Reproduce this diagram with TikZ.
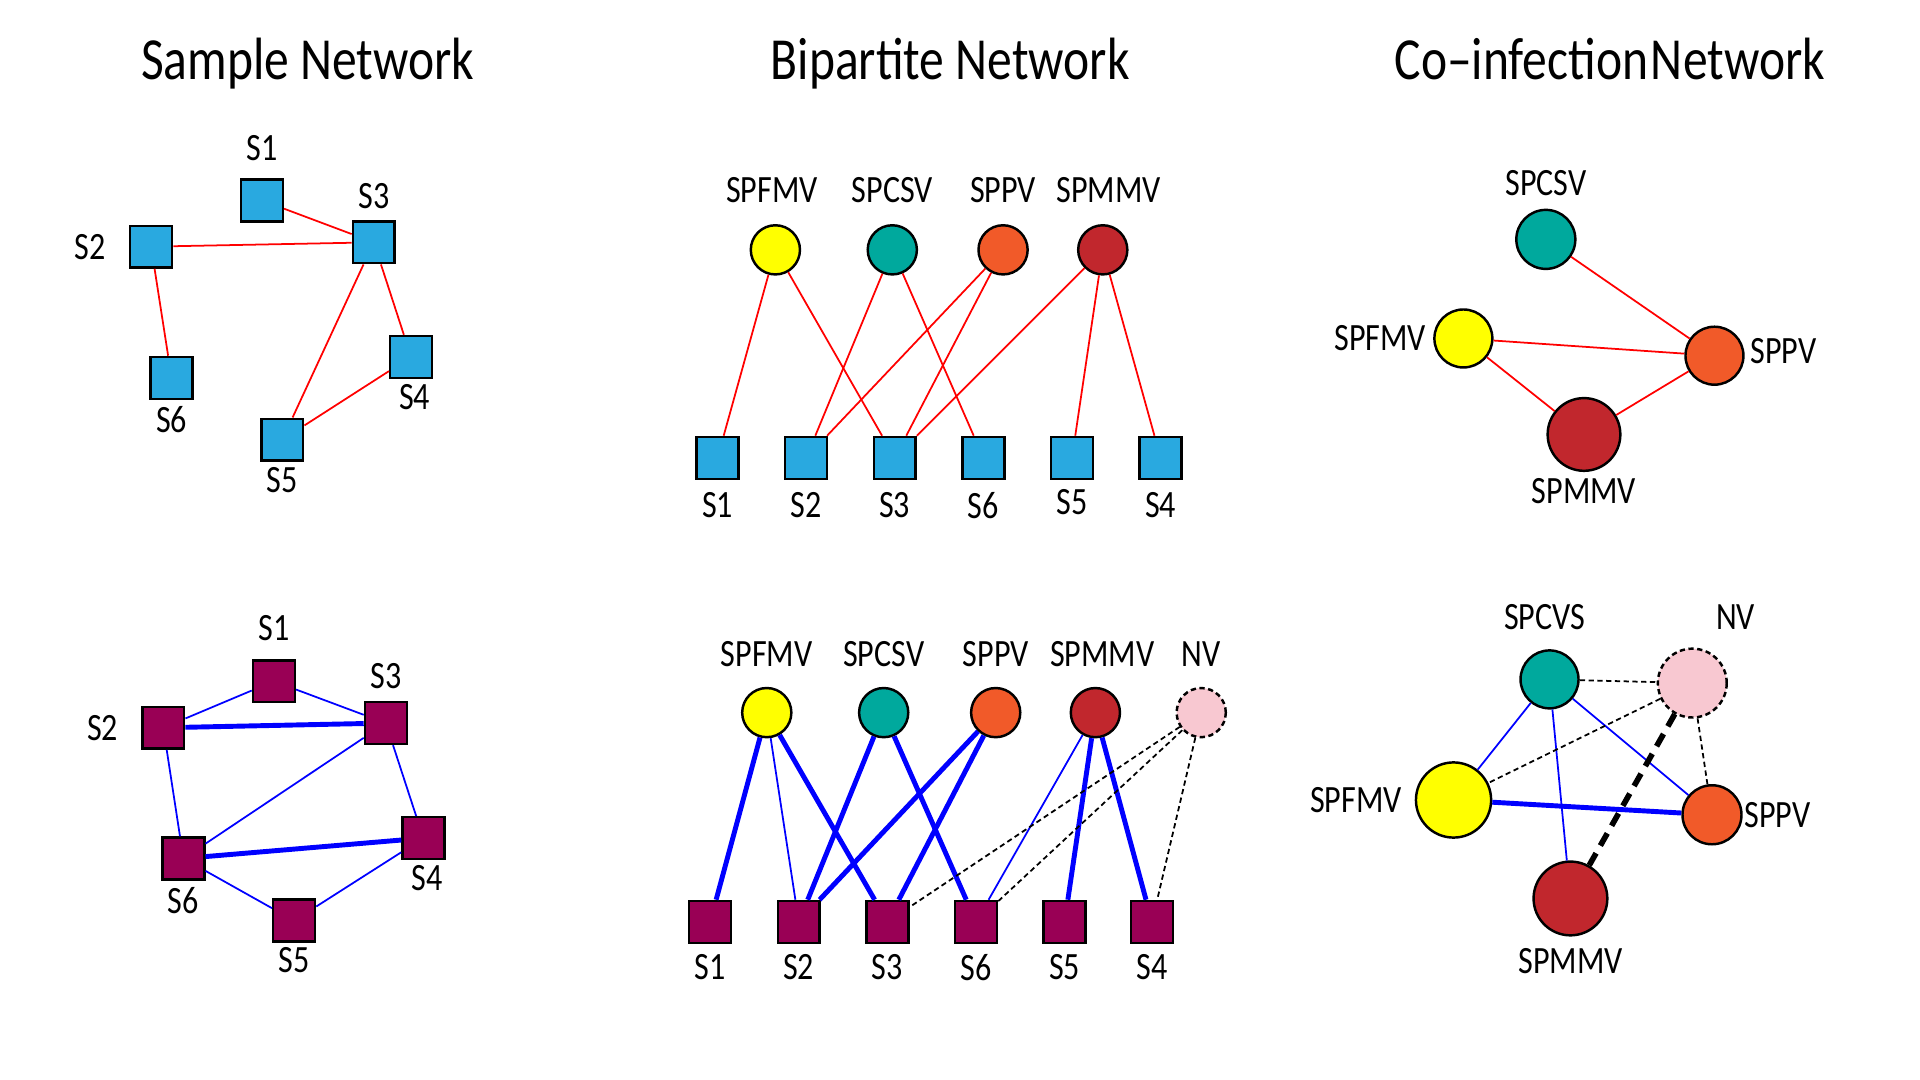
\documentclass[tikz,border=0pt]{standalone}
\usepackage{fontspec}
\setmainfont{Carlito}[FakeStretch=0.83]
\usepackage{xcolor}
\definecolor{SampleBlue}{HTML}{29A9E0}
\definecolor{SamplePurple}{HTML}{990055}
\definecolor{VirusYellow}{HTML}{FFFF00}
\definecolor{VirusTeal}{HTML}{00A99D}
\definecolor{VirusOrange}{HTML}{F15A29}
\definecolor{VirusRed}{HTML}{C1272D}
\definecolor{VirusPink}{HTML}{F8C8D1}

\begin{document}
\begin{tikzpicture}[x=0.012308cm, y=-0.012308cm,
    every label/.style={font=\fontsize{11}{13}\selectfont, inner sep=0pt},
    paneltitle/.style={font=\fontsize{17}{20}\selectfont, anchor=base, inner sep=0pt},
    sample/.style={draw, rectangle, minimum size=11.9pt, inner sep=0pt, line width=0.7pt},
    samplea/.style={sample, fill=SampleBlue},
    sampleb/.style={sample, fill=SamplePurple},
    virus/.style={draw, circle, minimum size=#1, inner sep=0pt, line width=0.7pt},
    virus/.default=14pt,
    nvnode/.style={virus=#1, fill=VirusPink, dash pattern=on 1.5pt off 1pt},
    nvnode/.default=14pt,
    weak/.style={line width=0.5pt},
    strong/.style={line width=1.4pt},
    nvlink/.style={line width=0.5pt, dash pattern=on 1.5pt off 1pt},
    nvstrong/.style={line width=1.6pt, dash pattern=on 4pt off 2.5pt}]
    \useasboundingbox (0,0) rectangle (1560,877.5);

    % Titles
    \node[paneltitle] (t1) at (250,65) {Sample Network};
    \node[paneltitle] (t2) at (772,65) {Bipartite Network};
    \node[paneltitle] (t3) at (1308,65) {\spaceskip=0.8pt Co--infection Network};

    % Sample network (top)
    \node[samplea, label={[label distance=4.9pt]above:S1}] (sa1) at (212.8,162.8) {};
    \node[samplea, label={[label distance=6.4pt]left:S2}] (sa2) at (122.8,200.4) {};
    \node[samplea, label={[label distance=3.2pt]above:S3}] (sa3) at (303.7,196.9) {};
    \node[samplea, label={[label distance=1.3pt, xshift=1pt]below:S4}] (sa4) at (334,290) {};
    \node[samplea, label={[label distance=1.3pt]below:S5}] (sa5) at (229.4,357.2) {};
    \node[samplea, label={[label distance=1.7pt]below:S6}] (sa6) at (139.4,307) {};

    \draw[red, weak] (sa1) -- (sa3);
    \draw[red, weak] (sa2) -- (sa3);
    \draw[red, weak] (sa2) -- (sa6);
    \draw[red, weak] (sa3) -- (sa4);
    \draw[red, weak] (sa3) -- (sa5);
    \draw[red, weak] (sa4) -- (sa5);

    % Sample network (bottom)
    \node[sampleb, label={[label distance=5pt]above:S1}] (sb1) at (222.5,553.5) {};
    \node[sampleb, label={[label distance=6.4pt]left:S2}] (sb2) at (132.7,591.3) {};
    \node[sampleb, label={[label distance=3.2pt]above:S3}] (sb3) at (313.5,587.5) {};
    \node[sampleb, label={[label distance=1.3pt, xshift=1pt]below:S4}] (sb4) at (344,681) {};
    \node[sampleb, label={[label distance=1.1pt]below:S5}] (sb5) at (239,748) {};
    \node[sampleb, label={[label distance=1.8pt]below:S6}] (sb6) at (149,697.5) {};

    \draw[blue, weak] (sb1) -- (sb2);
    \draw[blue, weak] (sb1) -- (sb3);
    \draw[blue, strong] (sb2) -- (sb3);
    \draw[blue, weak] (sb2) -- (sb6);
    \draw[blue, weak] (sb3) -- (sb6);
    \draw[blue, weak] (sb3) -- (sb4);
    \draw[blue, strong] (sb6) -- (sb4);
    \draw[blue, weak] (sb6) -- (sb5);
    \draw[blue, weak] (sb5) -- (sb4);

    % Bipartite network (top)
    \node[virus, fill=VirusYellow, label={[label distance=5.8pt, xshift=-1pt]above:SPFMV}] (fma) at (630,203) {};
    \node[virus, fill=VirusTeal, label={[label distance=5.8pt]above:SPCSV}] (csa) at (725,203) {};
    \node[virus, fill=VirusOrange, label={[label distance=5.8pt]above:SPPV}] (ppa) at (815,203) {};
    \node[virus, fill=VirusRed, label={[label distance=5.8pt, xshift=1.7pt]above:SPMMV}] (mma) at (896,203) {};
    \node[samplea, label={[label distance=3.3pt]below:S1}] (ba1) at (583,372) {};
    \node[samplea, label={[label distance=3.3pt]below:S2}] (ba2) at (655,372) {};
    \node[samplea, label={[label distance=3.3pt]below:S3}] (ba3) at (727,372) {};
    \node[samplea, label={[label distance=3.3pt]below:S6}] (ba6) at (799,372) {};
    \node[samplea, label={[label distance=2.6pt]below:S5}] (ba5) at (871,372) {};
    \node[samplea, label={[label distance=3.3pt]below:S4}] (ba4) at (943,372) {};

    \draw[red, weak] (fma) -- (ba1);
    \draw[red, weak] (fma) -- (ba3);
    \draw[red, weak] (csa) -- (ba2);
    \draw[red, weak] (csa) -- (ba6);
    \draw[red, weak] (ppa) -- (ba2);
    \draw[red, weak] (ppa) -- (ba3);
    \draw[red, weak] (mma) -- (ba3);
    \draw[red, weak] (mma) -- (ba5);
    \draw[red, weak] (mma) -- (ba4);

    % Bipartite network (bottom)
    \node[virus, fill=VirusYellow, label={[label distance=5.6pt]above:SPFMV}] (fmb) at (623,579) {};
    \node[virus, fill=VirusTeal, label={[label distance=5.6pt]above:SPCSV}] (csb) at (718,579) {};
    \node[virus, fill=VirusOrange, label={[label distance=5.6pt]above:SPPV}] (ppb) at (809,579) {};
    \node[virus, fill=VirusRed, label={[label distance=5.6pt, xshift=2pt]above:SPMMV}] (mmb) at (890,579) {};
    \node[nvnode, label={[label distance=5.6pt]above:NV}] (nvb) at (976,579) {};
    \node[sampleb, label={[label distance=2.8pt]below:S1}] (bb1) at (577,749) {};
    \node[sampleb, label={[label distance=2.8pt]below:S2}] (bb2) at (649,749) {};
    \node[sampleb, label={[label distance=2.8pt]below:S3}] (bb3) at (721,749) {};
    \node[sampleb, label={[label distance=2.8pt]below:S6}] (bb6) at (793,749) {};
    \node[sampleb, label={[label distance=2.8pt]below:S5}] (bb5) at (865,749) {};
    \node[sampleb, label={[label distance=2.8pt]below:S4}] (bb4) at (936,749) {};

    \draw[blue, strong] (fmb) -- (bb1);
    \draw[blue, weak] (fmb) -- (bb2);
    \draw[blue, strong] (fmb) -- (bb3);
    \draw[blue, strong] (csb) -- (bb2);
    \draw[blue, strong] (csb) -- (bb6);
    \draw[blue, strong] (ppb) -- (bb2);
    \draw[blue, strong] (ppb) -- (bb3);
    \draw[blue, weak] (mmb) -- (bb6);
    \draw[blue, strong] (mmb) -- (bb5);
    \draw[blue, strong] (mmb) -- (bb4);
    \draw[nvlink] (nvb) -- (bb3);
    \draw[nvlink] (nvb) -- (bb6);
    \draw[nvlink] (nvb) -- (bb4);

    % Co-infection network (top)
    \node[virus=16.8pt, fill=VirusTeal, label={[label distance=3.5pt]above:SPCSV}] (csc) at (1256,194.5) {};
    \node[virus=16.5pt, fill=VirusYellow, label={[label distance=1.8pt]left:SPFMV}] (fmc) at (1189,275) {};
    \node[virus=16.5pt, fill=VirusOrange, label={[label distance=1.5pt, yshift=1.4pt]right:SPPV}] (ppc) at (1393,289) {};
    \node[virus=20.7pt, fill=VirusRed, label={[label distance=1.6pt]below:SPMMV}] (mmc) at (1287,353) {};

    \draw[red, weak] (csc) -- (ppc);
    \draw[red, weak] (fmc) -- (ppc);
    \draw[red, weak] (fmc) -- (mmc);
    \draw[red, weak] (mmc) -- (ppc);

    % Co-infection network (bottom)
    \node[virus=16.5pt, fill=VirusTeal, label={[label distance=5.4pt, xshift=-1.4pt]above:SPCVS}] (csd) at (1259,552) {};
    \node[nvnode=19.6pt, label={[label distance=4.9pt, xshift=12.3pt]above:NV}] (nvd) at (1375,555) {};
    \node[virus=21.4pt, fill=VirusYellow, label={[label distance=3.5pt]left:SPFMV}] (fmd) at (1181,650) {};
    \node[virus=16.8pt, fill=VirusOrange, label={[label distance=0.3pt]right:SPPV}] (ppd) at (1391,662) {};
    \node[virus=21pt, fill=VirusRed, label={[label distance=3.2pt]below:SPMMV}] (mmd) at (1276,730) {};

    \draw[blue, weak] (csd) -- (fmd);
    \draw[blue, weak] (csd) -- (mmd);
    \draw[blue, weak] (csd) -- (ppd);
    \draw[blue, strong] (fmd) -- (ppd);
    \draw[nvlink] (csd) -- (nvd);
    \draw[nvlink] (nvd) -- (fmd);
    \draw[nvlink] (nvd) -- (ppd);
    \draw[nvstrong] (nvd) -- (mmd);
\end{tikzpicture}
\end{document}
